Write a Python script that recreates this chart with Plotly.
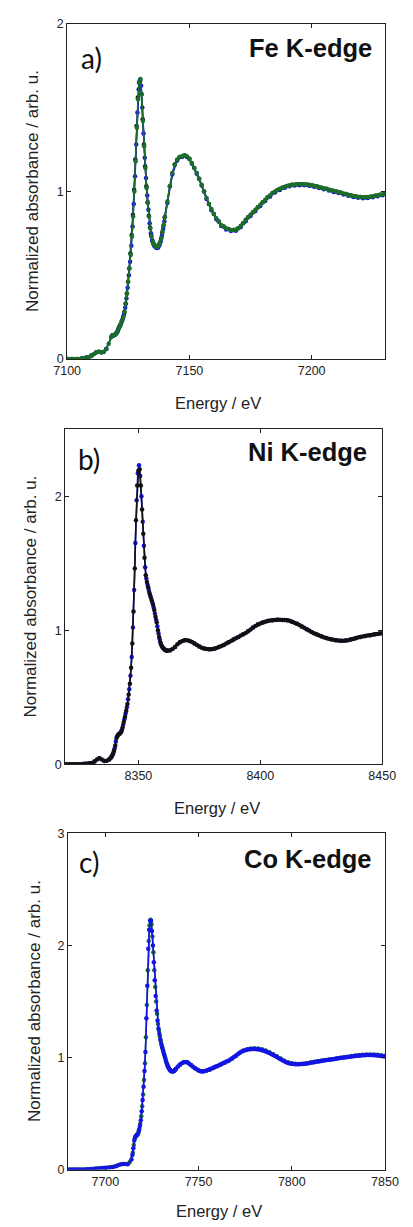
import numpy as np
import plotly.graph_objects as go

# ---------------- data ----------------
def grid(*segs):
    return np.concatenate([np.arange(a, b + s / 2, s) for a, b, s in segs])

# Panel a: Fe K-edge
fe_green_energy = grid((7100, 7118, 1), (7118.5, 7140, 0.5), (7141, 7230, 1))
fe_green_abs = [
    0, 0, 0, 0, 0, 0, 0.002, 0.005, 0.008, 0.012, 0.02, 0.03, 0.04, 0.045, 0.04, 0.042, 0.06, 0.09, 0.13,
    0.14, 0.14, 0.145, 0.15, 0.16, 0.18, 0.195, 0.21, 0.23, 0.25,
    0.28, 0.33, 0.39, 0.46, 0.54, 0.62, 0.73, 0.85, 1.0, 1.18,
    1.38, 1.55, 1.65, 1.67, 1.58, 1.42, 1.27, 1.14, 1.02, 0.93,
    0.85, 0.78, 0.73, 0.70, 0.685, 0.675, 0.67, 0.67, 0.68, 0.695,
    0.72, 0.76, 0.80, 0.85,
    0.94, 1.03, 1.11, 1.16, 1.19, 1.205, 1.21, 1.215, 1.21, 1.195,
    1.17, 1.14, 1.11, 1.075, 1.04, 1.0, 0.96, 0.925, 0.895, 0.865,
    0.84, 0.82, 0.80, 0.79, 0.78, 0.775, 0.77, 0.77, 0.772, 0.78,
    0.795, 0.81, 0.83, 0.845, 0.86, 0.875, 0.89, 0.905, 0.92, 0.935,
    0.95, 0.965, 0.977, 0.99, 1.0, 1.008, 1.015, 1.022, 1.028, 1.032,
    1.036, 1.039, 1.041, 1.042, 1.043, 1.043, 1.042, 1.041, 1.039, 1.036,
    1.033, 1.03, 1.026, 1.022, 1.018, 1.015, 1.011, 1.007, 1.003, 1.0,
    0.996, 0.992, 0.988, 0.984, 0.98, 0.977, 0.973, 0.97, 0.968, 0.966,
    0.965, 0.965, 0.966, 0.968, 0.971, 0.974, 0.977, 0.98, 0.983, 0.986,
]
fe_blue_energy = grid((7100, 7116, 2), (7118.25, 7139.75, 0.5), (7141, 7229, 2))
fe_blue_abs = [
    0, 0, 0, 0.002, 0.008, 0.02, 0.04, 0.04, 0.06,
    0.135, 0.14, 0.142, 0.147, 0.155, 0.17, 0.187, 0.2, 0.22, 0.24,
    0.265, 0.305, 0.36, 0.425, 0.5, 0.58, 0.675, 0.79, 0.925, 1.09,
    1.28, 1.47, 1.61, 1.665, 1.63, 1.5, 1.345, 1.2, 1.08, 0.975,
    0.89, 0.81, 0.75, 0.71, 0.69, 0.672, 0.665, 0.662, 0.665, 0.678,
    0.7, 0.735, 0.775, 0.82,
    0.93, 1.1, 1.185, 1.205, 1.205, 1.165, 1.105, 1.035, 0.955, 0.888,
    0.833, 0.793, 0.773, 0.763, 0.765, 0.788, 0.822, 0.853, 0.883, 0.913,
    0.943, 0.97, 0.993, 1.008, 1.021, 1.03, 1.035, 1.037, 1.036, 1.033,
    1.027, 1.02, 1.012, 1.005, 0.997, 0.99, 0.982, 0.974, 0.967, 0.962,
    0.959, 0.96, 0.965, 0.971, 0.977,
]
fe_black_energy = grid((7100, 7116, 2), (7118.4, 7139.9, 0.5), (7142, 7230, 2))
fe_black_abs = [
    0, 0, 0, 0.002, 0.008, 0.02, 0.04, 0.04, 0.06,
    0.14, 0.14, 0.145, 0.15, 0.16, 0.177, 0.193, 0.208, 0.228, 0.25,
    0.28, 0.33, 0.39, 0.46, 0.54, 0.63, 0.74, 0.86, 1.01, 1.19,
    1.39, 1.56, 1.65, 1.66, 1.58, 1.43, 1.28, 1.15, 1.03, 0.935,
    0.855, 0.785, 0.735, 0.703, 0.685, 0.675, 0.67, 0.67, 0.678, 0.693,
    0.718, 0.755, 0.795, 0.845,
    1.03, 1.16, 1.205, 1.215, 1.195, 1.14, 1.075, 1.0, 0.925, 0.865,
    0.82, 0.79, 0.775, 0.77, 0.78, 0.81, 0.845, 0.875, 0.905, 0.935,
    0.965, 0.99, 1.008, 1.022, 1.032, 1.039, 1.042, 1.043, 1.041, 1.036,
    1.03, 1.022, 1.015, 1.007, 1.0, 0.992, 0.984, 0.977, 0.97, 0.966,
    0.965, 0.968, 0.974, 0.98, 0.986,
]

# Panel b: Ni K-edge
ni_black_energy = grid((8320, 8338, 1), (8338.5, 8362, 0.5), (8363, 8450, 1))
ni_black_abs = [
    0, 0, 0, 0, 0, 0, 0, 0.002, 0.004, 0.006, 0.008, 0.01, 0.02, 0.035, 0.044, 0.035, 0.025, 0.026, 0.035,
    0.045, 0.058, 0.075, 0.1, 0.14, 0.195, 0.215, 0.225, 0.232, 0.245,
    0.275, 0.315, 0.355, 0.4, 0.45, 0.52, 0.6, 0.72, 0.9, 1.14,
    1.46, 1.82, 2.08, 2.19, 2.2, 2.08, 1.9, 1.72, 1.54, 1.41,
    1.36, 1.32, 1.28, 1.25, 1.22, 1.19, 1.15, 1.1, 1.06, 1.0,
    0.95, 0.91, 0.885, 0.87, 0.86, 0.852, 0.848, 0.846,
    0.85, 0.86, 0.875, 0.895, 0.91, 0.92, 0.925, 0.925, 0.92, 0.912,
    0.9, 0.89, 0.878, 0.87, 0.864, 0.86, 0.858, 0.858, 0.862, 0.868,
    0.875, 0.882, 0.89, 0.9, 0.91, 0.92, 0.93, 0.94, 0.95, 0.96,
    0.97, 0.98, 0.992, 1.005, 1.02, 1.032, 1.042, 1.05, 1.058, 1.064,
    1.068, 1.072, 1.075, 1.077, 1.078, 1.078, 1.077, 1.076, 1.074, 1.07,
    1.064, 1.056, 1.048, 1.038, 1.028, 1.018, 1.007, 0.997, 0.987, 0.978,
    0.97, 0.962, 0.955, 0.948, 0.942, 0.937, 0.932, 0.928, 0.925, 0.923,
    0.922, 0.922, 0.923, 0.926, 0.93, 0.935, 0.94, 0.945, 0.95, 0.954,
    0.957, 0.96, 0.963, 0.966, 0.969, 0.972, 0.975, 0.978,
]
ni_blue_energy = grid((8320, 8338, 2), (8338.75, 8361.75, 0.5), (8363, 8449, 2))
ni_blue_abs = [
    0, 0, 0, 0, 0.004, 0.008, 0.02, 0.044, 0.025, 0.035,
    0.05, 0.066, 0.087, 0.12, 0.17, 0.207, 0.22, 0.228, 0.238, 0.26,
    0.295, 0.335, 0.378, 0.425, 0.485, 0.56, 0.66, 0.8, 1.02, 1.3,
    1.65, 1.97, 2.17, 2.23, 2.15, 2.0, 1.81, 1.63, 1.47, 1.385,
    1.34, 1.3, 1.265, 1.235, 1.205, 1.17, 1.125, 1.08, 1.03, 0.975,
    0.93, 0.895, 0.877, 0.865, 0.856, 0.85, 0.847,
    0.85, 0.875, 0.91, 0.925, 0.92, 0.9, 0.878, 0.864, 0.858, 0.862,
    0.875, 0.89, 0.91, 0.93, 0.95, 0.97, 0.992, 1.02, 1.042, 1.058,
    1.068, 1.075, 1.078, 1.077, 1.074, 1.064, 1.048, 1.028, 1.007, 0.987,
    0.97, 0.955, 0.942, 0.932, 0.925, 0.922, 0.923, 0.93, 0.94, 0.95,
    0.957, 0.963, 0.969, 0.975,
]

# Panel c: Co K-edge
co_blue_energy = grid((7680, 7714, 2), (7714.5, 7738, 0.5), (7739, 7850, 1))
co_blue_abs = [
    0, 0, 0, 0, 0, 0.002, 0.005, 0.008, 0.01, 0.013, 0.016, 0.018, 0.022, 0.032, 0.045, 0.05, 0.048, 0.09,
    0.13, 0.19, 0.26, 0.29, 0.3, 0.31, 0.32, 0.35, 0.39, 0.44,
    0.52, 0.62, 0.74, 0.88, 1.05, 1.35, 1.64, 1.97, 2.14, 2.22,
    2.22, 2.13, 2.0, 1.85, 1.69, 1.55, 1.42, 1.33, 1.26, 1.21,
    1.16, 1.12, 1.09, 1.06, 1.03, 1.0, 0.97, 0.945, 0.922, 0.905,
    0.892, 0.883, 0.877, 0.875, 0.877, 0.883, 0.892, 0.902,
    0.92, 0.935, 0.948, 0.957, 0.96, 0.955, 0.945, 0.932, 0.918, 0.905,
    0.895, 0.885, 0.878, 0.876, 0.878, 0.882, 0.888, 0.895, 0.902, 0.91,
    0.918, 0.925, 0.932, 0.94, 0.948, 0.956, 0.964, 0.972, 0.982, 0.993,
    1.005, 1.017, 1.03, 1.042, 1.052, 1.06, 1.066, 1.07, 1.073, 1.075,
    1.076, 1.076, 1.075, 1.073, 1.07, 1.066, 1.06, 1.054, 1.047, 1.04,
    1.032, 1.023, 1.014, 1.004, 0.994, 0.984, 0.975, 0.966, 0.958, 0.952,
    0.947, 0.944, 0.942, 0.941, 0.941, 0.941, 0.942, 0.943, 0.945, 0.947,
    0.95, 0.953, 0.956, 0.959, 0.962, 0.965, 0.968, 0.97, 0.973, 0.975,
    0.978, 0.98, 0.983, 0.985, 0.988, 0.99, 0.993, 0.995, 0.998, 1.0,
    1.003, 1.005, 1.008, 1.01, 1.012, 1.014, 1.016, 1.017, 1.019, 1.02,
    1.021, 1.022, 1.022, 1.022, 1.022, 1.021, 1.02, 1.018, 1.016, 1.014,
    1.012, 1.01,
]
co_green_energy = grid((7681, 7713, 2), (7714.75, 7737.75, 0.5), (7740, 7850, 2))
co_green_abs = [
    0, 0, 0, 0, 0, 0.003, 0.006, 0.009, 0.012, 0.015, 0.017, 0.02, 0.028, 0.04, 0.05, 0.049, 0.065,
    0.15, 0.22, 0.275, 0.295, 0.305, 0.315, 0.33, 0.365, 0.41, 0.475,
    0.565, 0.67, 0.8, 0.95, 1.18, 1.47, 1.78, 2.04, 2.18, 2.23,
    2.19, 2.08, 1.94, 1.78, 1.63, 1.5, 1.39, 1.3, 1.24, 1.19,
    1.145, 1.107, 1.077, 1.047, 1.017, 0.987, 0.959, 0.935, 0.915, 0.9,
    0.889, 0.882, 0.878, 0.878, 0.881, 0.888, 0.898,
    0.937, 0.958, 0.957, 0.934, 0.907, 0.887, 0.878, 0.881, 0.892, 0.906,
    0.922, 0.937, 0.953, 0.97, 0.99, 1.015, 1.04, 1.06, 1.073, 1.08,
    1.082, 1.08, 1.073, 1.062, 1.048, 1.03, 1.011, 0.991, 0.972, 0.957,
    0.948, 0.944, 0.943, 0.945, 0.95, 0.956, 0.962, 0.968, 0.973, 0.978,
    0.983, 0.988, 0.993, 0.998, 1.003, 1.008, 1.013, 1.018, 1.022, 1.025,
    1.027, 1.028, 1.027, 1.024, 1.02, 1.016,
]

panel_letters = ["a)", "b)", "c)"]
panel_titles = ["Fe K-edge", "Ni K-edge", "Co K-edge"]
x_ranges = [[7100, 7230], [8320, 8450], [7680, 7850]]
x_ticks = [[7100, 7150, 7200], [8350, 8400, 8450], [7700, 7750, 7800, 7850]]
y_ranges = [[0, 2], [0, 2.5], [0, 3]]
y_ticks = [[0, 1, 2], [0, 1, 2], [0, 1, 2, 3]]
x_title = "Energy / eV"
y_title = "Normalized absorbance / arb. u."

BLACK = "#111111"
BLUE = "#1414e6"
GREEN = "#1b6e2a"

# ---------------- figure ----------------
W, H = 413, 1227
fig = go.Figure()

def add(energy, absb, color, axis):
    fig.add_trace(go.Scatter(
        x=energy, y=absb, mode="lines+markers",
        line=dict(color=color, width=1.6),
        marker=dict(color=color, size=4.5, symbol="circle"),
        xaxis="x" + axis, yaxis="y" + axis, showlegend=False, hoverinfo="skip"))

add(fe_black_energy, fe_black_abs, BLACK, "")
add(fe_blue_energy, fe_blue_abs, BLUE, "")
add(fe_green_energy, fe_green_abs, GREEN, "")
add(ni_blue_energy, ni_blue_abs, BLUE, "2")
add(ni_black_energy, ni_black_abs, BLACK, "2")
add(co_green_energy, co_green_abs, GREEN, "3")
add(co_blue_energy, co_blue_abs, BLUE, "3")

# panel boxes in pixels: (left, right, top, bottom)
boxes = [(57, 398, 17, 356), (55, 395, 427, 766), (58, 398, 836, 1176)]
xt_y = [401, 810, 1218]
xt_x = [219, 218, 220]
yt_x = [20, 18, 22]
letter_pos = [(83, 52), (80, 457), (80, 865)]
title_pos = [(386, 41), (381, 450), (386, 862)]

SANS = "Arial"
tickfont = dict(family=SANS, size=12.5, color="#222")
layout = dict(width=W, height=H, margin=dict(l=0, r=0, t=0, b=0),
              paper_bgcolor="white", plot_bgcolor="white", showlegend=False)
annotations = []
for i, (l, r, t, b) in enumerate(boxes):
    sfx = "" if i == 0 else str(i + 1)
    common = dict(showline=True, linecolor="#222", linewidth=1, mirror="ticks",
                  ticks="inside", ticklen=4, tickwidth=1, tickcolor="#222",
                  showgrid=False, zeroline=False, tickfont=tickfont)
    layout["xaxis" + sfx] = dict(domain=[l / W, r / W], range=x_ranges[i],
                                 tickvals=x_ticks[i], anchor="y" + sfx, **common)
    layout["yaxis" + sfx] = dict(domain=[1 - b / H, 1 - t / H], range=y_ranges[i],
                                 tickvals=y_ticks[i], anchor="x" + sfx, **common)
    annotations.append(dict(text=x_title, x=xt_x[i] / W, y=1 - xt_y[i] / H, xref="paper", yref="paper",
                            xanchor="center", yanchor="middle", showarrow=False,
                            font=dict(family=SANS, size=16.5, color="#222")))
    annotations.append(dict(text=y_title, x=yt_x[i] / W, y=1 - (t + b) / 2 / H, xref="paper", yref="paper",
                            xanchor="center", yanchor="middle", showarrow=False, textangle=-90,
                            font=dict(family=SANS, size=17, color="#222")))
    annotations.append(dict(text=panel_letters[i], x=letter_pos[i][0] / W, y=1 - letter_pos[i][1] / H,
                            xref="paper", yref="paper", xanchor="center", yanchor="middle", showarrow=False,
                            font=dict(family="Lato", size=28, color="#111")))
    annotations.append(dict(text="<b>" + panel_titles[i] + "</b>", x=title_pos[i][0] / W, y=1 - title_pos[i][1] / H,
                            xref="paper", yref="paper", xanchor="right", yanchor="middle", showarrow=False,
                            font=dict(family=SANS, size=25.5, color="#111")))
layout["annotations"] = annotations
fig.update_layout(**layout)
fig.write_html("out.html", config={"displayModeBar": False, "staticPlot": True},
               post_script="document.body.style.margin='0px';document.body.style.padding='0px';"
                           "document.body.style.overflow='hidden';")
